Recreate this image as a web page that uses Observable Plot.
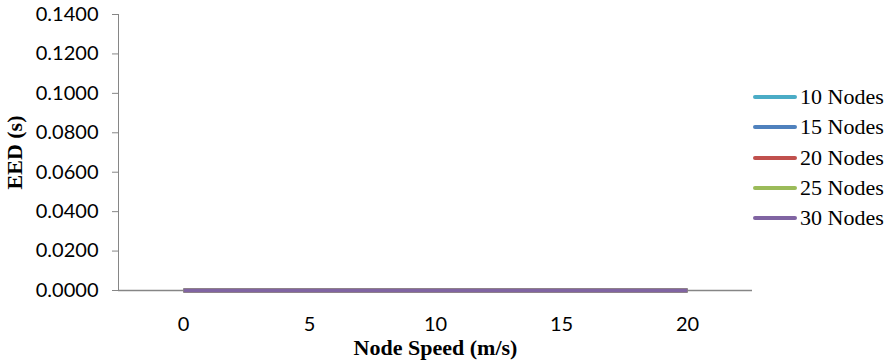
<!DOCTYPE html>
<html>
<head>
<meta charset="utf-8">
<script src="https://cdn.jsdelivr.net/npm/d3@7"></script>
<script src="https://cdn.jsdelivr.net/npm/@observablehq/plot@0.6"></script>
<style>
  body { margin: 0; background: #fff; }
  #wrap { position: relative; width: 892px; height: 360px; }
  #legend { position: absolute; left: 753px; top: 82px; font-family: "Liberation Serif", "Times New Roman", serif; font-size: 22px; color: #000; }
  .row { display: flex; align-items: center; height: 30.25px; }
  .sw { width: 44px; height: 4px; border-radius: 2px; margin-right: 3px; }
</style>
</head>
<body>
<div id="wrap">
  <div id="chart"></div>
  <div id="legend"></div>
</div>
<script>
// Node speed categories (m/s)
const speeds = [0, 5, 10, 15, 20];
// End-to-end delay (s) per node count
const series = ["10 Nodes", "15 Nodes", "20 Nodes", "25 Nodes", "30 Nodes"];
const eed10 = [0.0000, 0.0000, 0.0000, 0.0000, 0.0000];
const eed15 = [0.0000, 0.0000, 0.0000, 0.0000, 0.0000];
const eed20 = [0.0000, 0.0000, 0.0000, 0.0000, 0.0000];
const eed25 = [0.0000, 0.0000, 0.0000, 0.0000, 0.0000];
const eed30 = [0.0000, 0.0000, 0.0000, 0.0000, 0.0000];
const colors = ["#4BACC6", "#4F81BD", "#C0504D", "#9BBB59", "#8064A2"];
const yTicks = [0, 0.02, 0.04, 0.06, 0.08, 0.10, 0.12, 0.14];

const values = [eed10, eed15, eed20, eed25, eed30];
const rows = [];
series.forEach((s, i) => speeds.forEach((sp, j) => rows.push({series: s, speed: sp, eed: values[i][j]})));

const axisGray = "#868686";
const plot = Plot.plot({
  width: 892,
  height: 360,
  marginLeft: 118,
  marginRight: 140,
  marginTop: 14,
  marginBottom: 70,
  style: { fontFamily: "Lato, sans-serif", fontSize: "20px", color: "#000", background: "#fff" },
  x: { type: "point", domain: speeds, padding: 0.5 },
  y: { domain: [0, 0.14] },
  color: { domain: series, range: colors },
  marks: [
    Plot.axisY({ ticks: yTicks, tickFormat: d3.format(".4f"), tickSize: 6, tickPadding: 14, stroke: axisGray, label: null }),
    Plot.axisX({ tickSize: 0, tickPadding: 26, label: null }),
    Plot.frame({ anchor: "left", stroke: axisGray }),
    Plot.ruleY([0], { stroke: axisGray, strokeWidth: 1.5 }),
    Plot.line(rows, { x: "speed", y: "eed", z: "series", stroke: "series", strokeWidth: 4, strokeLinecap: "butt" }),
    Plot.text(["Node Speed (m/s)"], { frameAnchor: "bottom", dy: 57, textAnchor: "middle", lineAnchor: "middle", fontFamily: "Liberation Serif, serif", fontWeight: "bold", fontSize: 22 }),
    Plot.text(["EED (s)"], { frameAnchor: "left", dx: -104, rotate: -90, textAnchor: "middle", lineAnchor: "middle", fontFamily: "Liberation Serif, serif", fontWeight: "bold", fontSize: 22 })
  ]
});
document.getElementById("chart").appendChild(plot);

const legend = d3.select("#legend");
series.forEach((s, i) => {
  const r = legend.append("div").attr("class", "row");
  r.append("div").attr("class", "sw").style("background", colors[i]);
  r.append("span").text(s);
});
</script>
</body>
</html>
